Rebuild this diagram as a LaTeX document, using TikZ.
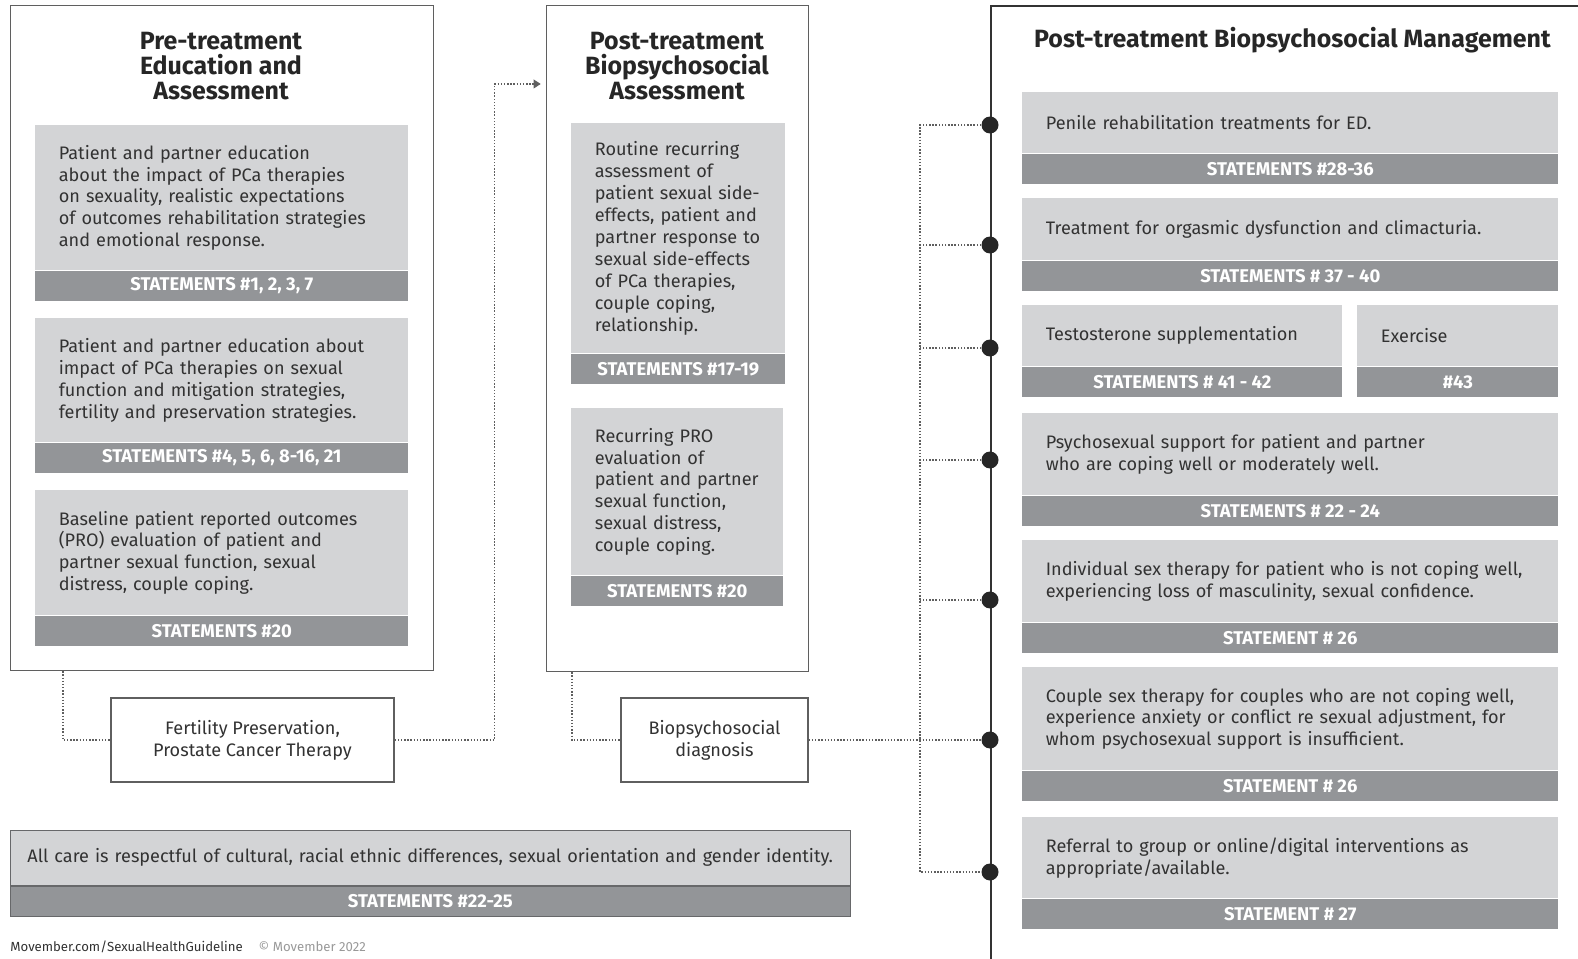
\documentclass[tikz,border=0pt]{standalone}
\usepackage{fontspec}
\setmainfont{Fira Sans}
\usepackage{xcolor}
\usetikzlibrary{arrows.meta, positioning}

\definecolor{boxgrey}{RGB}{211,212,214}
\definecolor{bandgrey}{RGB}{147,149,152}
\definecolor{textgrey}{RGB}{50,50,50}
\definecolor{linegrey}{RGB}{95,95,95}

\begin{document}
\begin{tikzpicture}[x=0.02cm, y=-0.02cm,
    panel/.style={rectangle, draw=linegrey, line width=0.8pt, anchor=north west, inner sep=0pt},
    title/.style={align=center, text=black!85, font=\bfseries\fontsize{14.2}{14.2}\selectfont},
    item/.style={rectangle, fill=boxgrey, text=textgrey, align=left, anchor=north west, inner xsep=0.47cm, font=\fontsize{10.3}{12.5}\selectfont},
    band/.style={rectangle, fill=bandgrey, text=white, inner sep=0pt, minimum height=0.6cm, font=\bfseries\fontsize{10.5}{10.5}\selectfont},
    whitebox/.style={rectangle, draw=linegrey, line width=0.8pt, fill=white, text=textgrey, align=center, font=\fontsize{10.3}{12.5}\selectfont},
    dot/.style={circle, fill=black!85, inner sep=0pt, minimum size=0.34cm},
    link/.style={draw=linegrey, line width=0.6pt, dash pattern=on 0.8pt off 1pt}]

    \useasboundingbox (0,0) rectangle (1578,959);

    % pre-treatment column
    \node[panel, minimum width=8.46cm, minimum height=13.3cm] (pre) at (10,5) {};
    \node[title] (preT) at (221,66) {Pre-treatment\\Education and\\Assessment};

    \node[item, text width=6.52cm, minimum height=2.9cm] (P1) at (35,125) {Patient and partner education\\about the impact of PCa therapies\\on sexuality, realistic expectations\\of outcomes rehabilitation strategies\\and emotional response.};
    \node[band, minimum width=7.46cm, below=0pt of P1] (P1s) {STATEMENTS \#1, 2, 3, 7};

    \node[item, text width=6.52cm, minimum height=2.48cm] (P2) at (35,318) {Patient and partner education about\\impact of PCa therapies on sexual\\function and mitigation strategies,\\fertility and preservation strategies.};
    \node[band, minimum width=7.46cm, below=0pt of P2] (P2s) {STATEMENTS \#4, 5, 6, 8-16, 21};

    \node[item, text width=6.52cm, minimum height=2.5cm] (P3) at (35,490) {Baseline patient reported outcomes\\(PRO) evaluation of patient and\\partner sexual function, sexual\\distress, couple coping.};
    \node[band, minimum width=7.46cm, below=0pt of P3] (P3s) {STATEMENTS \#20};

    % post-treatment assessment column
    \node[panel, minimum width=5.24cm, minimum height=13.32cm] (post) at (546,5) {};
    \node[title] (postT) at (677,66) {Post-treatment\\Biopsychosocial\\Assessment};

    \node[item, text width=3.34cm, minimum height=4.6cm] (M1) at (571,123) {Routine recurring\\assessment of\\patient sexual side-\\effects, patient and\\partner response to\\sexual side-effects\\of PCa therapies,\\couple coping,\\relationship.};
    \node[band, minimum width=4.28cm, below=0pt of M1] (M1s) {STATEMENTS \#17-19};

    \node[item, text width=3.3cm, minimum height=3.34cm] (M2) at (571,408) {Recurring PRO\\evaluation of\\patient and partner\\sexual function,\\sexual distress,\\couple coping.};
    \node[band, minimum width=4.24cm, below=0pt of M2] (M2s) {STATEMENTS \#20};

    % small boxes under the columns
    \node[whitebox, minimum width=5.66cm, minimum height=1.68cm] (fert) at (252.5,740) {Fertility Preservation,\\Prostate Cancer Therapy};
    \node[whitebox, minimum width=3.74cm, minimum height=1.68cm] (diag) at (714.5,740) {Biopsychosocial\\diagnosis};

    % respect bar
    \node[item, align=center, inner xsep=0.2cm, text width=16.4cm, minimum height=1.1cm, draw=bandgrey!70!black, line width=0.4pt] (care) at (10,830) {All care is respectful of cultural, racial ethnic differences, sexual orientation and gender identity.};
    \node[band, minimum width=16.8cm, below=0pt of care, draw=bandgrey!70!black, line width=0.4pt] (cares) {STATEMENTS \#22-25};

    % management column
    \node[panel, draw=black!80, line width=1pt, minimum width=13cm, minimum height=20cm] (mgmt) at (990,5) {};
    \node[title, anchor=west] (mgmtT) at (1028,40) {Post-treatment Biopsychosocial Management};

    \node[item, text width=9.78cm, minimum height=1.22cm] (R1) at (1022,92) {Penile rehabilitation treatments for ED.};
    \node[band, minimum width=10.72cm, below=0pt of R1] (R1s) {STATEMENTS \#28-36};

    \node[item, text width=9.78cm, minimum height=1.24cm] (R2) at (1022,198) {Treatment for orgasmic dysfunction and climacturia.};
    \node[band, minimum width=10.72cm, below=0pt of R2] (R2s) {STATEMENTS \# 37 - 40};

    \node[item, text width=5.46cm, minimum height=1.22cm] (R3) at (1022,305) {Testosterone supplementation};
    \node[band, minimum width=6.4cm, below=0pt of R3] (R3s) {STATEMENTS \# 41 - 42};
    \node[item, text width=3.08cm, minimum height=1.22cm] (R3b) at (1357,305) {Exercise};
    \node[band, minimum width=4.02cm, below=0pt of R3b] (R3bs) {\#43};

    \node[item, text width=9.78cm, minimum height=1.64cm] (R4) at (1022,413) {Psychosexual support for patient and partner\\who are coping well or moderately well.};
    \node[band, minimum width=10.72cm, below=0pt of R4] (R4s) {STATEMENTS \# 22 - 24};

    \node[item, text width=9.78cm, minimum height=1.64cm] (R5) at (1022,540) {Individual sex therapy for patient who is not coping well,\\experiencing loss of masculinity, sexual confidence.};
    \node[band, minimum width=10.72cm, below=0pt of R5] (R5s) {STATEMENT \# 26};

    \node[item, text width=9.78cm, minimum height=2.06cm] (R6) at (1022,667) {Couple sex therapy for couples who are not coping well,\\experience anxiety or conflict re sexual adjustment, for\\whom psychosexual support is insufficient.};
    \node[band, minimum width=10.72cm, below=0pt of R6] (R6s) {STATEMENT \# 26};

    \node[item, text width=9.78cm, minimum height=1.62cm] (R7) at (1022,817) {Referral to group or online/digital interventions as\\appropriate/available.};
    \node[band, minimum width=10.72cm, below=0pt of R7] (R7s) {STATEMENT \# 27};

    % connectors
    \coordinate (bus) at (920,0);
    \node[dot] (d1) at (990,125) {};
    \node[dot] (d2) at (990,245) {};
    \node[dot] (d3) at (990,348) {};
    \node[dot] (d4) at (990,460) {};
    \node[dot] (d5) at (990,600) {};
    \node[dot] (d6) at (990,740) {};
    \node[dot] (d7) at (990,872) {};

    \draw[link] ([xshift=1.06cm]pre.south west) |- (fert.west);
    \draw[link, -{Triangle[length=4pt, width=5pt]}, shorten >=3pt] (fert.east) -- ++(2cm,0) |- ([yshift=-1.58cm]post.north west);
    \draw[link] ([xshift=0.52cm]post.south west) |- (diag.west);
    \draw[link] (diag.east) -- (d6);
    \draw[link] (d1) -- (d1 -| bus) -- (d7 -| bus) -- (d7);
    \draw[link] (d2) -- (d2 -| bus);
    \draw[link] (d3) -- (d3 -| bus);
    \draw[link] (d4) -- (d4 -| bus);
    \draw[link] (d5) -- (d5 -| bus);

    \node[anchor=north west, inner sep=0pt, text=textgrey, font=\fontsize{7.5}{9}\selectfont] (foot) at (10,941) {Movember.com/SexualHealthGuideline\hspace{1.2em}\textcolor{black!40}{© Movember 2022}};

\end{tikzpicture}
\end{document}
